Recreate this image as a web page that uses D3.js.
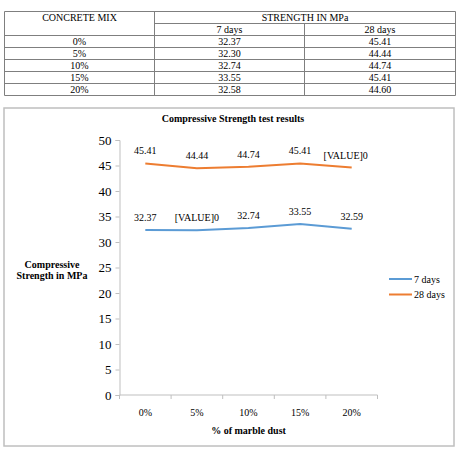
<!DOCTYPE html>
<html>
    <head>
        <script src="https://d3js.org/d3.v7.min.js"></script>
        <style>
            body {
                margin: 0;
                background: #fff;
            }
            svg {
                display: block;
            }
            svg text {
                font-family: 'Liberation Serif', 'DejaVu Serif', serif !important;
                fill: #000;
            }
            .grid line {
                stroke: #7f7f7f;
                stroke-width: 1;
            }
            .bold {
                font-weight: bold;
            }
        </style>
    </head>
    <body>
        <script>
            const mixes = ['0%', '5%', '10%', '15%', '20%'];
            const tableDay7 = ['32.37', '32.30', '32.74', '33.55', '32.58'];
            const tableDay28 = ['45.41', '44.44', '44.74', '45.41', '44.60'];

            const days7 = [32.37, 32.3, 32.74, 33.55, 32.59];
            const days28 = [45.41, 44.44, 44.74, 45.41, 44.6];
            const labels7 = ['32.37', '[VALUE]0', '32.74', '33.55', '32.59'];
            const labels28 = ['45.41', '44.44', '44.74', '45.41', '[VALUE]0'];
            const yTicks = [0, 5, 10, 15, 20, 25, 30, 35, 40, 45, 50];

            const width = 457;
            const height = 449;
            const svg = d3.select('body').append('svg').attr('width', width).attr('height', height);

            // ---- table ----
            const tbl = svg.append('g').attr('class', 'grid');
            const tx = [4.5, 154.5, 304.5, 455.5];
            const rowH = 12;
            const ty0 = 11.5;
            const nRows = 2 + mixes.length;
            const tyEnd = ty0 + nRows * rowH;
            tx.forEach((x, i) =>
                tbl.append('line').attr('x1', x).attr('x2', x).attr('y1', i === 2 ? ty0 + rowH : ty0).attr('y2', tyEnd)
            );
            tbl.append('line').attr('x1', tx[0]).attr('x2', tx[3]).attr('y1', ty0).attr('y2', ty0);
            tbl.append('line').attr('x1', tx[1]).attr('x2', tx[3]).attr('y1', ty0 + rowH).attr('y2', ty0 + rowH);
            for (let i = 2; i <= nRows; i++) {
                const y = ty0 + i * rowH;
                tbl.append('line').attr('x1', tx[0]).attr('x2', tx[3]).attr('y1', y).attr('y2', y);
            }
            const cellText = (x, y, t) =>
                svg.append('text').attr('x', x).attr('y', y).attr('text-anchor', 'middle').style('font-size', '10px').text(t);
            const cx = [(tx[0] + tx[1]) / 2, (tx[1] + tx[2]) / 2, (tx[2] + tx[3]) / 2];
            cellText(cx[0], ty0 + 9, 'CONCRETE MIX');
            cellText((tx[1] + tx[3]) / 2, ty0 + 9, 'STRENGTH IN MPa');
            cellText(cx[1], ty0 + rowH + 9.5, '7 days');
            cellText(cx[2], ty0 + rowH + 9.5, '28 days');
            mixes.forEach((m, i) => {
                const y = ty0 + (i + 2) * rowH + 9.5;
                cellText(cx[0], y, m);
                cellText(cx[1], y, tableDay7[i]);
                cellText(cx[2], y, tableDay28[i]);
            });

            // ---- chart frame ----
            svg.append('rect')
                .attr('x', 4)
                .attr('y', 108)
                .attr('width', 450)
                .attr('height', 338)
                .attr('fill', '#fff')
                .attr('stroke', '#bfbfbf')
                .attr('stroke-width', 1.5);

            const plot = { left: 119.5, right: 377.5, top: 140, bottom: 395 };
            const x = d3.scaleBand().domain(mixes).range([plot.left, plot.right]);
            const y = d3.scaleLinear().domain([0, 50]).range([plot.bottom, plot.top]);

            svg.append('text')
                .attr('class', 'bold')
                .attr('x', 233)
                .attr('y', 122)
                .attr('text-anchor', 'middle')
                .style('font-size', '10px')
                .text('Compressive Strength test results');

            // y axis
            const yAxis = svg
                .append('g')
                .attr('transform', `translate(${plot.left},0)`)
                .call(d3.axisLeft(y).tickValues(yTicks).tickSize(4).tickPadding(4));
            yAxis.selectAll('path, line').attr('stroke', '#bfbfbf');
            yAxis.selectAll('text').style('font-size', '13px');

            // x axis
            const xAxis = svg
                .append('g')
                .attr('transform', `translate(0,${plot.bottom})`)
                .call(d3.axisBottom(x).tickSize(0).tickPadding(14));
            xAxis.select('.domain').attr('stroke', '#bfbfbf').attr('d', `M${plot.left},0H${plot.right}`);
            xAxis.selectAll('text').style('font-size', '10px');
            const bounds = mixes.map((m) => x(m)).concat([plot.right]);
            xAxis.selectAll('.sep')
                .data(bounds)
                .enter()
                .append('line')
                .attr('x1', (d) => d)
                .attr('x2', (d) => d)
                .attr('y1', 0)
                .attr('y2', 4)
                .attr('stroke', '#bfbfbf');

            svg.append('text')
                .attr('class', 'bold')
                .attr('x', (plot.left + plot.right) / 2)
                .attr('y', 434)
                .attr('text-anchor', 'middle')
                .style('font-size', '10px')
                .text('% of marble dust');

            const yt = svg.append('text').attr('class', 'bold').attr('text-anchor', 'middle').style('font-size', '10px');
            yt.append('tspan').attr('x', 52).attr('y', 268).text('Compressive');
            yt.append('tspan').attr('x', 52).attr('y', 279).text('Strength in MPa');

            // lines
            const line = d3
                .line()
                .x((d, i) => x(mixes[i]) + x.bandwidth() / 2)
                .y((d) => y(d));
            const series = [
                { name: '7 days', values: days7, labels: labels7, color: '#5b9bd5' },
                { name: '28 days', values: days28, labels: labels28, color: '#ed7d31' }
            ];
            series.forEach((s) => {
                svg.append('path').attr('d', line(s.values)).attr('fill', 'none').attr('stroke', s.color).attr('stroke-width', 2);
                svg.append('g')
                    .selectAll('text')
                    .data(s.values)
                    .enter()
                    .append('text')
                    .attr('x', (d, i) => x(mixes[i]) + x.bandwidth() / 2 - (s.labels[i].startsWith('[') && i === 4 ? 6 : 0))
                    .attr('y', (d) => y(d) - 9)
                    .attr('text-anchor', 'middle')
                    .style('font-size', '10px')
                    .text((d, i) => s.labels[i]);
            });

            // legend
            const legend = svg.append('g');
            series.forEach((s, i) => {
                const ly = 279 + i * 15.5;
                legend.append('line').attr('x1', 389).attr('x2', 412).attr('y1', ly).attr('y2', ly).attr('stroke', s.color).attr('stroke-width', 2);
                legend.append('text').attr('x', 414).attr('y', ly + 3.5).style('font-size', '10px').text(s.name);
            });
        </script>
    </body>
</html>
